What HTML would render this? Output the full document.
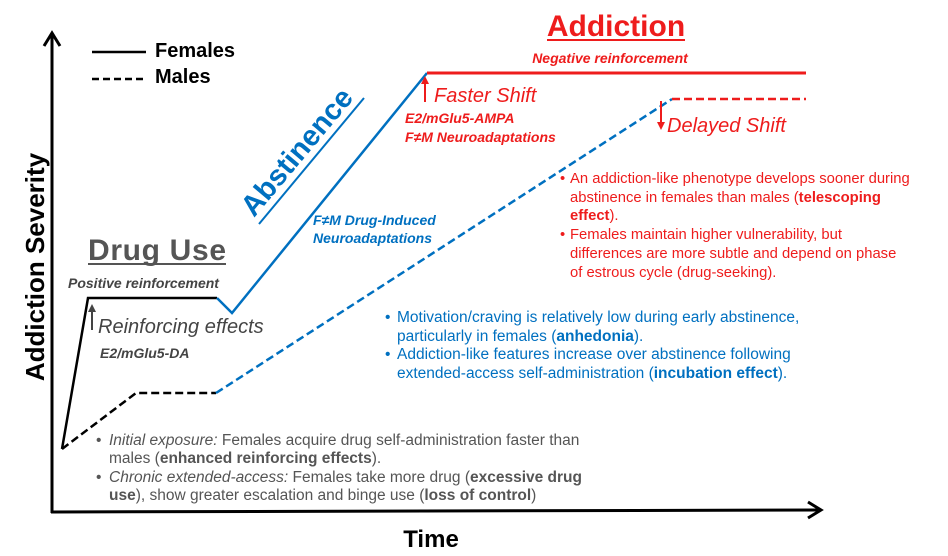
<!DOCTYPE html>
<html><head><meta charset="utf-8"><style>
html,body{margin:0;padding:0;background:#fff;}
svg{display:block;font-family:"Liberation Sans",Arial,sans-serif;}
</style></head><body>
<svg width="948" height="556" viewBox="0 0 948 556" xmlns="http://www.w3.org/2000/svg">
<g stroke="#000" stroke-width="3" fill="none">
<line x1="52" y1="36" x2="52" y2="513"/>
<line x1="51" y1="512" x2="818" y2="510"/>
<polyline points="44,46 52,33 60,46"/>
<polyline points="808,502 821,510 808,518"/>
</g>
<line x1="92" y1="52" x2="146" y2="52" stroke="#000" stroke-width="2.5"/>
<line x1="92" y1="79" x2="146" y2="79" stroke="#000" stroke-width="2.5" stroke-dasharray="7,4"/>
<text x="155" y="57" font-size="20" font-weight="bold">Females</text>
<text x="155" y="83" font-size="20" font-weight="bold">Males</text>
<text transform="translate(44,267) rotate(-90)" text-anchor="middle" font-size="26" font-weight="bold">Addiction Severity</text>
<text x="431" y="547" text-anchor="middle" font-size="24" font-weight="bold">Time</text>
<polyline points="62,449 88,298 217,298" fill="none" stroke="#000" stroke-width="2.5"/>
<polyline points="217,298 232,313 427,73" fill="none" stroke="#0070c0" stroke-width="2.5"/>
<line x1="427" y1="73" x2="806" y2="73" stroke="#ee1c1c" stroke-width="3"/>
<polyline points="62,449 136,393 216,393" fill="none" stroke="#000" stroke-width="2.5" stroke-dasharray="8,4"/>
<line x1="216" y1="393" x2="672" y2="99" stroke="#0070c0" stroke-width="2.5" stroke-dasharray="8,4"/>
<line x1="672" y1="99" x2="806" y2="99" stroke="#ee1c1c" stroke-width="2.5" stroke-dasharray="8,4"/>
<text x="88" y="260" font-size="30" font-weight="bold" fill="#555" textLength="138">Drug Use</text>
<line x1="88" y1="264" x2="226" y2="264" stroke="#555" stroke-width="2"/>
<text x="68" y="288" font-size="14" font-weight="bold" font-style="italic" fill="#444">Positive reinforcement</text>
<line x1="92" y1="330" x2="92" y2="310" stroke="#444" stroke-width="2"/>
<polygon points="88,312 92,304 96,312" fill="#444"/>
<text x="98" y="333" font-size="20" font-style="italic" fill="#444">Reinforcing effects</text>
<text x="100" y="358" font-size="14" font-weight="bold" font-style="italic" fill="#444">E2/mGlu5-DA</text>
<text transform="translate(254,218) rotate(-50)" font-size="29" font-weight="bold" fill="#0070c0">Abstinence</text>
<line x1="259" y1="224" x2="364" y2="98" stroke="#0070c0" stroke-width="2"/>
<text x="313" y="225" font-size="14" font-weight="bold" font-style="italic" fill="#0070c0">F≠M Drug-Induced</text>
<text x="313" y="243" font-size="14" font-weight="bold" font-style="italic" fill="#0070c0">Neuroadaptations</text>
<text x="616" y="36" text-anchor="middle" font-size="30" font-weight="bold" fill="#ee1c1c">Addiction</text>
<line x1="547" y1="40" x2="685" y2="40" stroke="#ee1c1c" stroke-width="2"/>
<text x="610" y="63" text-anchor="middle" font-size="14" font-weight="bold" font-style="italic" fill="#ee1c1c">Negative reinforcement</text>
<line x1="425" y1="102" x2="425" y2="82" stroke="#ee1c1c" stroke-width="2"/>
<polygon points="421,84 425,76 429,84" fill="#ee1c1c"/>
<text x="434" y="102" font-size="20" font-style="italic" fill="#ee1c1c">Faster Shift</text>
<text x="405" y="123" font-size="14" font-weight="bold" font-style="italic" fill="#ee1c1c">E2/mGlu5-AMPA</text>
<text x="405" y="142" font-size="14" font-weight="bold" font-style="italic" fill="#ee1c1c">F≠M Neuroadaptations</text>
<line x1="661" y1="101" x2="661" y2="124" stroke="#ee1c1c" stroke-width="2"/>
<polygon points="657,122 661,130 665,122" fill="#ee1c1c"/>
<text x="667" y="132" font-size="20" font-style="italic" fill="#ee1c1c">Delayed Shift</text>
<g font-size="14.8" fill="#ee1c1c">
<text x="560" y="183">•</text>
<text x="570" y="183">An addiction-like phenotype develops sooner during</text>
<text x="570" y="202">abstinence in females than males (<tspan font-weight="bold">telescoping</tspan></text>
<text x="570" y="220"><tspan font-weight="bold">effect</tspan>).</text>
<text x="560" y="239">•</text>
<text x="570" y="239">Females maintain higher vulnerability,  but</text>
<text x="570" y="258">differences are more subtle and depend on phase</text>
<text x="570" y="277">of estrous cycle (drug-seeking).</text>
</g>
<g font-size="15.5" fill="#0070c0">
<text x="385" y="322">•</text>
<text x="397" y="322">Motivation/craving is relatively low during early abstinence,</text>
<text x="397" y="341">particularly in females (<tspan font-weight="bold">anhedonia</tspan>).</text>
<text x="385" y="359">•</text>
<text x="397" y="359">Addiction-like features increase over abstinence following</text>
<text x="397" y="378">extended-access self-administration (<tspan font-weight="bold">incubation effect</tspan>).</text>
</g>
<g font-size="15.5" fill="#555">
<text x="96" y="445">•</text>
<text x="109" y="445"><tspan font-style="italic">Initial exposure:</tspan> Females acquire drug self-administration faster than</text>
<text x="109" y="463">males (<tspan font-weight="bold">enhanced reinforcing effects</tspan>).</text>
<text x="96" y="482">•</text>
<text x="109" y="482"><tspan font-style="italic">Chronic extended-access:</tspan> Females take more drug (<tspan font-weight="bold">excessive drug</tspan></text>
<text x="109" y="500"><tspan font-weight="bold">use</tspan>), show greater escalation and binge use (<tspan font-weight="bold">loss of control</tspan>)</text>
</g>
</svg>
</body></html>
